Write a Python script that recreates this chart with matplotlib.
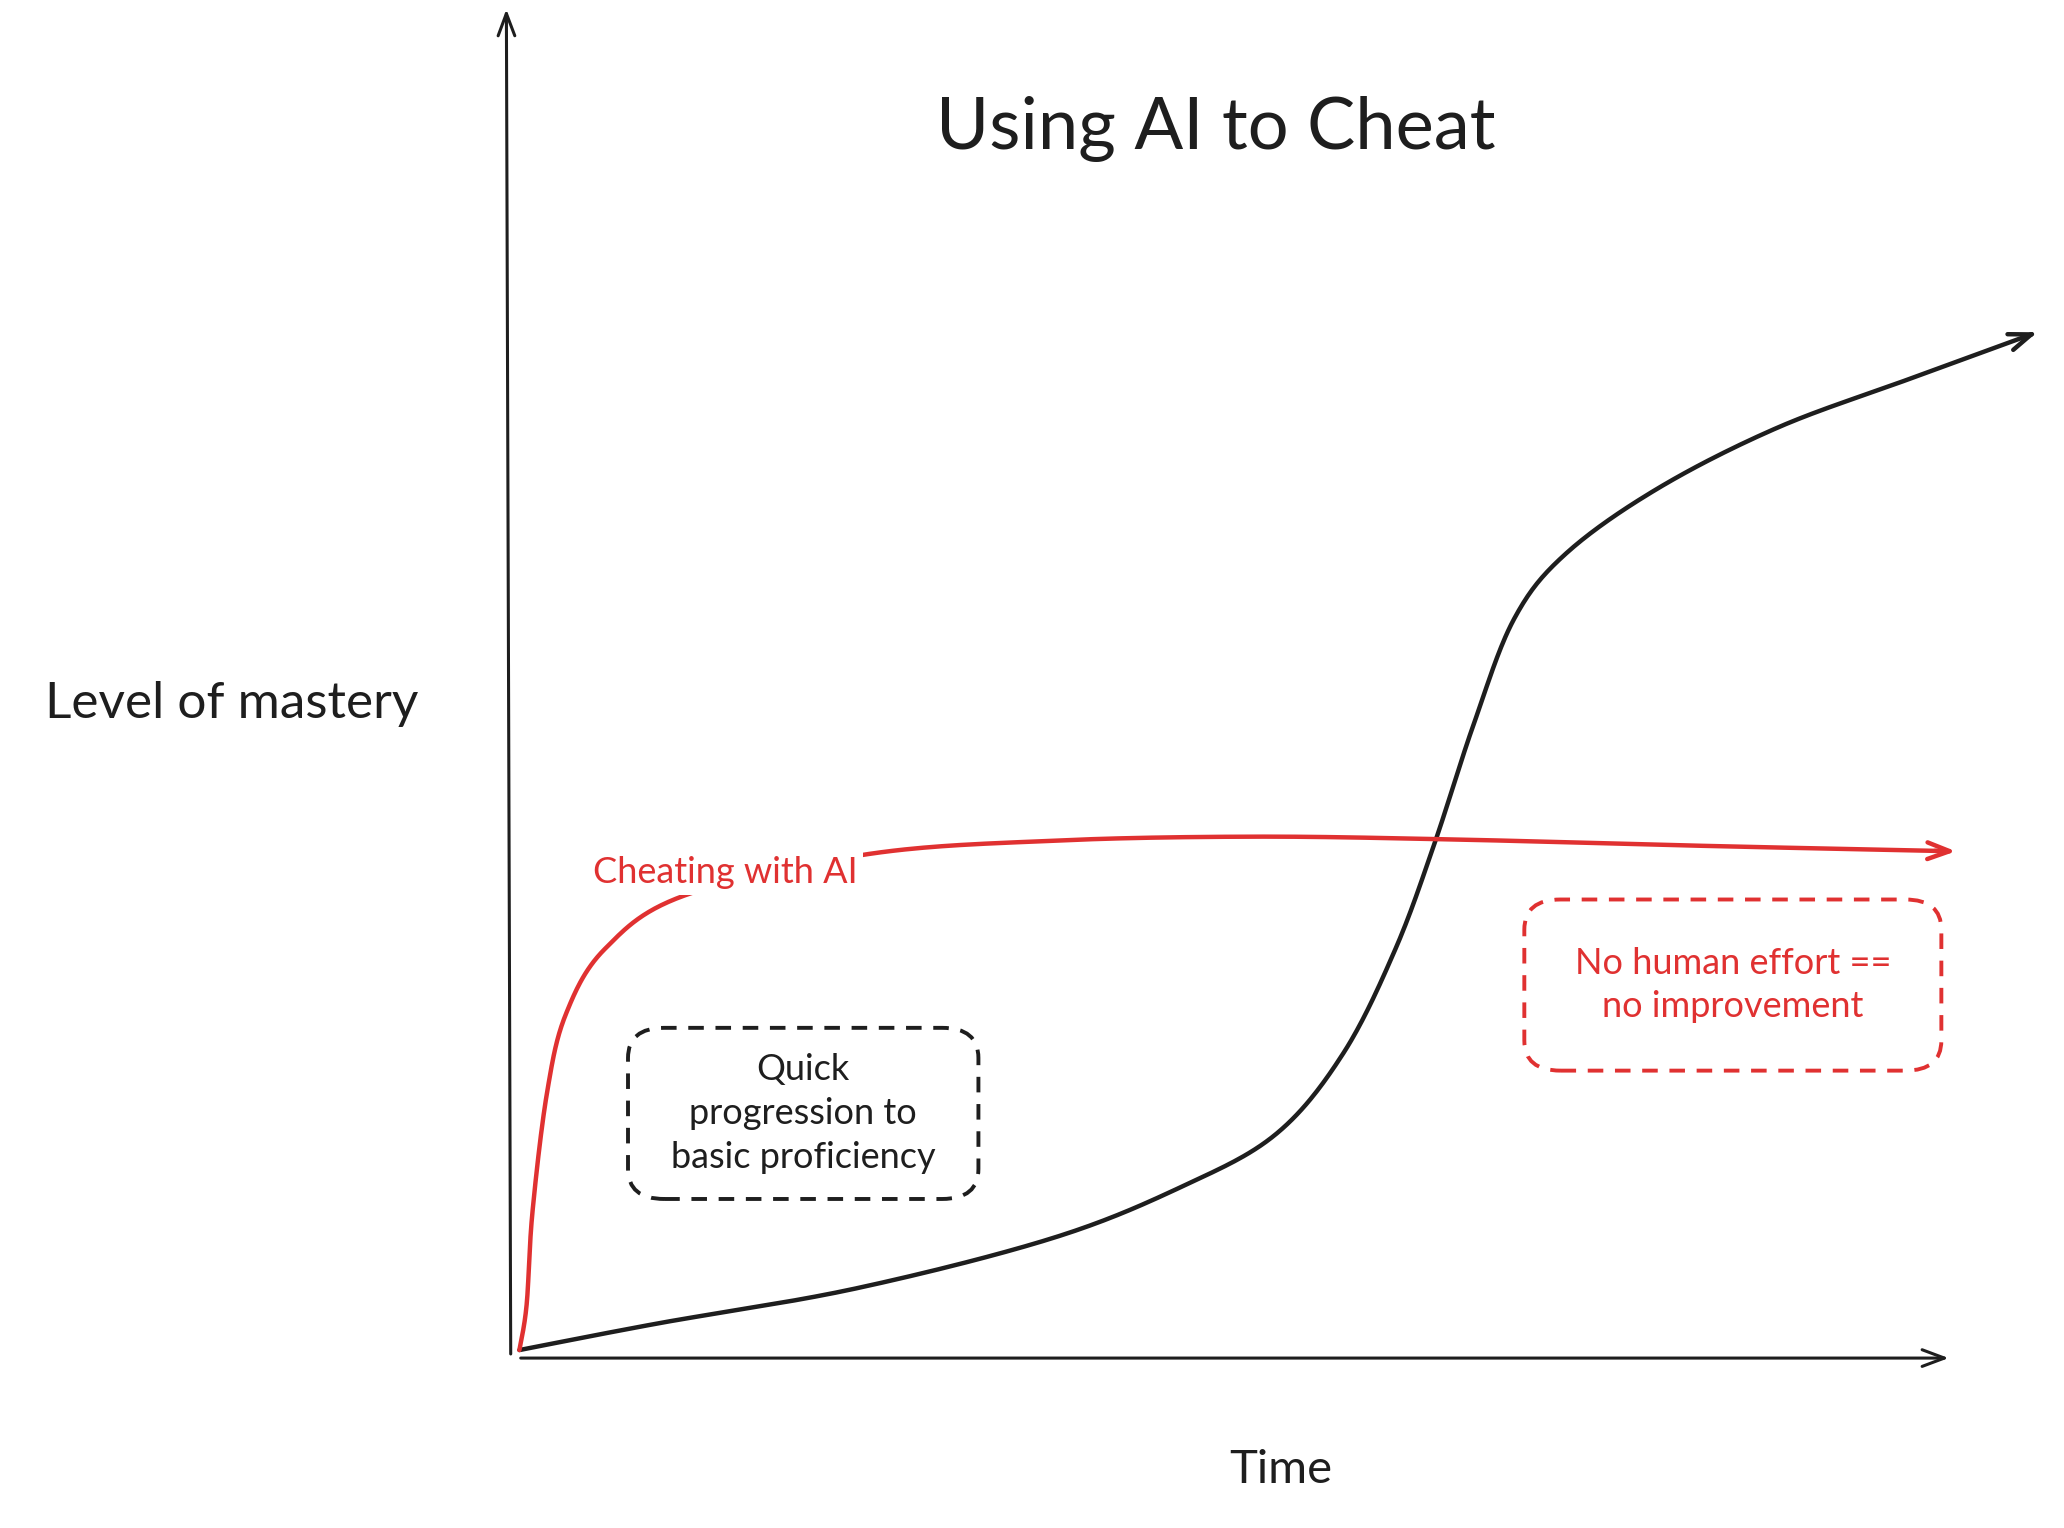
import matplotlib
matplotlib.use("Agg")
import matplotlib.pyplot as plt
from matplotlib.patches import FancyBboxPatch
import numpy as np

# data (time, mastery) in chart units
normal_t = [0.6, 10.2, 23.8, 37.5, 46.5, 52.9, 57.5, 61.1, 63.8, 66.5, 69.3, 72.9, 79.3, 87.5, 96.5, 105.6]
normal_m = [0.5, 2.5, 5.1, 8.9, 12.8, 16.7, 22.7, 30.5, 38.4, 47.3, 55.2, 60.1, 65.0, 69.5, 73.1, 76.7]
cheat_t = [0.6, 1.1, 1.5, 2.5, 3.8, 6.5, 12.0, 24.7, 37.5, 51.1, 64.7, 82.9, 100.0]
cheat_m = [0.5, 3.9, 10.8, 19.7, 25.6, 30.5, 34.5, 37.6, 38.6, 38.9, 38.7, 38.2, 37.8]

RED = "#e03131"
BLK = "#1e1e1e"
FONT = ["Lato", "DejaVu Sans"]

fig = plt.figure(figsize=(20.64, 15.28), dpi=100)
ax = fig.add_axes([0, 0, 1, 1])
ax.set_xlim(-35.27, 107.27)
ax.set_ylim(-12.81, 101.48)
ax.axis("off")

def smooth(xs, ys, n=30):
    P = np.column_stack([xs, ys]).astype(float)
    P = np.vstack([P[0], P, P[-1]])
    out = []
    t = np.linspace(0, 1, n, endpoint=False)[:, None]
    for i in range(1, len(P) - 2):
        p0, p1, p2, p3 = P[i - 1], P[i], P[i + 1], P[i + 2]
        seg = 0.5 * ((2 * p1) + (-p0 + p2) * t + (2 * p0 - 5 * p1 + 4 * p2 - p3) * t ** 2
                     + (-p0 + 3 * p1 - 3 * p2 + p3) * t ** 3)
        out.append(seg)
    out.append(P[-2][None, :])
    out = np.vstack(out)
    return out[:, 0], out[:, 1]

AS = "->,head_length=1.6,head_width=0.6"
ax.annotate("", xy=(-0.3, 101), xytext=(0, 0), arrowprops=dict(arrowstyle=AS, lw=2.2, color=BLK))
ax.annotate("", xy=(99.5, -0.1), xytext=(0.5, -0.1), arrowprops=dict(arrowstyle=AS, lw=2.2, color=BLK))

for xs, ys, c in [(normal_t, normal_m, BLK), (cheat_t, cheat_m, RED)]:
    x, y = smooth(xs, ys)
    ax.plot(x[:-3], y[:-3], color=c, lw=3.2, solid_capstyle="round")
    ax.annotate("", xy=(x[-1], y[-1]), xytext=(x[-6], y[-6]),
                arrowprops=dict(arrowstyle=AS, lw=3.2, color=c))

ax.text(48.7, 91.8, "Using AI to Cheat", fontsize=52, ha="center", va="center", family=FONT, color=BLK)
ax.text(-19.3, 48.8, "Level of mastery", fontsize=37, ha="center", va="center", family=FONT, color=BLK)
ax.text(53.2, -8.5, "Time", fontsize=34, ha="center", va="center", family=FONT, color=BLK)
ax.text(14.8, 36.2, "Cheating with AI", fontsize=26, ha="center", va="center", family=FONT, color=RED,
        bbox=dict(facecolor="white", edgecolor="none", pad=4))

def box(cx, cy, w, h, color, txt):
    p = FancyBboxPatch((cx - w / 2, cy - h / 2), w, h, boxstyle="round,pad=0,rounding_size=2.5",
                       fill=False, ec=color, lw=2.8, ls=(0, (4, 3)), mutation_aspect=0.9)
    ax.add_patch(p)
    ax.text(cx, cy, txt, fontsize=26, ha="center", va="center", family=FONT, color=color,
            linespacing=1.4)

box(20.2, 18.2, 24.2, 12.8, BLK, "Quick\nprogression to\nbasic proficiency")
box(84.4, 27.8, 28.8, 12.8, RED, "No human effort ==\nno improvement")

fig.savefig("out.png", dpi=100, facecolor="white")
